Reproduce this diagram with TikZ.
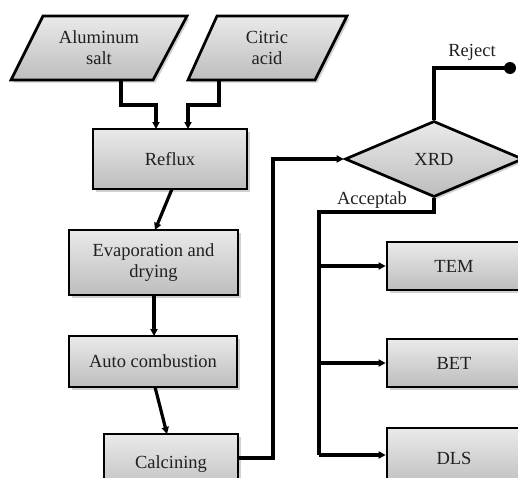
\documentclass[tikz,border=0pt]{standalone}
\usepackage{fontspec}
\setmainfont{Liberation Serif}
\usetikzlibrary{arrows.meta,shadows,shapes.geometric}
\definecolor{topc}{HTML}{EAEAEA}
\definecolor{botc}{HTML}{BDBDBD}
\definecolor{txt}{HTML}{202020}
\tikzset{
  proc/.style={draw=black, line width=2.7pt, top color=topc, bottom color=botc,
    drop shadow={shadow xshift=2.5pt, shadow yshift=-2.5pt, fill=gray!60, opacity=0.6},
    text=txt, font=\fontsize{18.5}{21}\selectfont, align=center, inner sep=0pt},
  conn/.style={line width=3.2pt, line join=miter},
  arr/.style={conn, -{Triangle[length=7pt,width=7pt]}},
  lbl/.style={text=txt, font=\fontsize{18.5}{21}\selectfont, inner sep=0pt}
}
\begin{document}
\begin{tikzpicture}[x=1pt,y=-1pt]
\useasboundingbox (0,0) rectangle (518,477);
\clip (0,0) rectangle (518,477);
% inputs (parallelograms)
\path[proc] (43,16) -- (187,16) -- (153,80) -- (11,80) -- cycle;
\node[lbl, align=center] (al) at (99,48) {Aluminum\\salt};
\path[proc] (217,16) -- (347,16) -- (315,80) -- (188,80) -- cycle;
\node[lbl, align=center] (ca) at (267,48) {Citric\\acid};
\coordinate (alb) at (121,80);
\coordinate (cab) at (219,80);
% process boxes
\node[proc, minimum width=154pt, minimum height=60pt] (reflux) at (170,159) {Reflux};
\node[proc, minimum width=169pt, minimum height=65pt] (evap) at (153.5,262.5) {Evaporation and\\drying};
\node[proc, minimum width=168pt, minimum height=51pt] (auto) at (153,361.5) {Auto combustion};
\node[proc, minimum width=134pt, minimum height=60pt] (calc) at (171,464) {Calcining};
% diamond
\node[proc, diamond, minimum width=178pt, minimum height=76pt, aspect=2.34] (xrd) at (434,159) {XRD};
% test boxes
\node[proc, minimum width=134pt, minimum height=48pt] (tem) at (454,266) {TEM};
\node[proc, minimum width=134pt, minimum height=48pt] (bet) at (454,363) {BET};
\node[proc, minimum width=134pt, minimum height=60pt] (dls) at (454,458) {DLS};
% connectors
\draw[arr] (alb) |- (156,105) -- (156,129);
\draw[arr] (cab) |- (188,105) -- (188,129);
\draw[arr] (172,189) -- (155,230);
\draw[arr] (154,295) -- (154,336);
\draw[arr] (155,387) -- (167,434);
\draw[arr] (calc.east |- 0,458) -- (273,458) |- (xrd.west);
\coordinate (rej) at (510,68);
\draw[conn] (xrd.north) |- (rej);
\fill (rej) circle (6pt);
\node[lbl] (rejl) at (472,52) {Reject};
\coordinate (split) at (319,212);
\draw[conn] (xrd.south) |- (split) -- (319,455);
\draw[arr] (319,266) -- (tem.west);
\draw[arr] (319,363) -- (bet.west);
\draw[arr] (319,455) -- (dls.west |- 0,455);
\node[lbl] (acc) at (372,200) {Acceptab};
\end{tikzpicture}
\end{document}
